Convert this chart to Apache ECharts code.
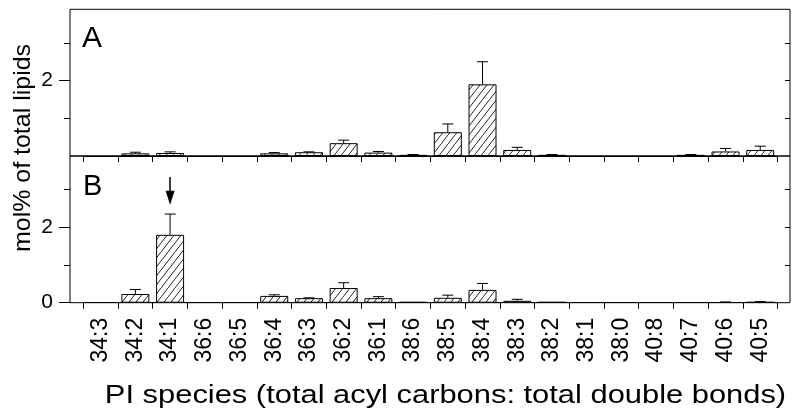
<!DOCTYPE html>
<html><head><meta charset="utf-8">
<script src="https://cdn.jsdelivr.net/npm/echarts@6/dist/echarts.min.js"></script>
<style>html,body{margin:0;padding:0;background:#fff}#c{width:800px;height:419px}</style>
</head><body><div id="c"></div>
<script>
// ---- data ----
const categories = ['34:3','34:2','34:1','36:6','36:5','36:4','36:3','36:2','36:1','38:6','38:5','38:4','38:3','38:2','38:1','38:0','40:8','40:7','40:6','40:5'];
const meanA = [null, 0.07, 0.08, null, null, 0.07, 0.10, 0.34, 0.09, 0.03, 0.63, 1.90, 0.16, 0.03, null, null, null, 0.03, 0.12, 0.16];
const errA  = [0, 0.03, 0.03, 0, 0, 0.02, 0.01, 0.08, 0.03, 0.01, 0.22, 0.60, 0.07, 0.01, 0, 0, 0, 0.01, 0.08, 0.10];
const meanB = [null, 0.23, 1.80, null, null, 0.18, 0.12, 0.39, 0.12, 0.02, 0.13, 0.34, 0.05, 0.02, null, null, null, null, 0.01, 0.02];
const errB  = [0, 0.12, 0.55, 0, 0, 0.03, 0.01, 0.14, 0.04, 0, 0.07, 0.17, 0.04, 0, 0, 0, 0, 0, 0.01, 0.01];
const yMajorA = [2];
const yMajorB = [0, 2];
const yMinor = [1, 3];
const yRight = [1, 2, 3];
const yLabelsA = [2];
const yLabelsB = [0, 2];
const arrowCategory = '34:1';
const arrowFrom = 3.33;
const arrowTo = 2.78;

// ---- layout / style ----
const FONT = "'Liberation Sans', Arial, Helvetica, sans-serif";
const L = 70, R = 790, T = 9.3, MID = 156, BOT = 302.7;
const IL = 83.3, IR = 777.6;
const YMAX = 3.89;

function hatch() {
  const w = 7, h = 9;
  const c = document.createElement('canvas');
  c.width = w; c.height = h;
  const g = c.getContext('2d');
  g.fillStyle = '#fff'; g.fillRect(0, 0, w, h);
  g.strokeStyle = '#222'; g.lineWidth = 1;
  g.beginPath(); g.moveTo(-1, h + h / w); g.lineTo(w + 1, -h / w); g.stroke();
  return c;
}
const pattern = { image: hatch(), repeat: 'repeat' };

const chart = echarts.init(document.getElementById('c'), null, { renderer: 'canvas' });

function frameGrid(top, bottom) {
  return { left: L, top: top, width: R - L, height: bottom - top, show: true,
    borderColor: '#000', borderWidth: 1, backgroundColor: 'transparent', containLabel: false };
}
function dataGrid(top, bottom) {
  return { left: IL, top: top, width: IR - IL, height: bottom - top, containLabel: false };
}

function xAxis(gridIndex, showLabels) {
  return {
    type: 'category', gridIndex: gridIndex, data: categories, boundaryGap: true,
    axisLine: { show: true, lineStyle: { color: '#000', width: 1 } },
    axisTick: { show: true, length: 6, inside: false, lineStyle: { color: '#000', width: 1 } },
    axisLabel: { show: showLabels, rotate: 90, fontSize: 23, margin: 15, color: '#000', fontFamily: FONT },
    splitLine: { show: false }
  };
}
function yAxes(gridIndex, major, labels) {
  const base = { type: 'value', gridIndex: gridIndex, min: 0, max: YMAX, splitLine: { show: false } };
  return [
    Object.assign({}, base, {
      position: 'left', offset: IL - L,
      axisLine: { show: false },
      axisTick: { show: true, length: 11, customValues: major, lineStyle: { color: '#000', width: 1 } },
      axisLabel: { show: true, customValues: labels, fontSize: 21, margin: 17, color: '#000', fontFamily: FONT }
    }),
    Object.assign({}, base, {
      position: 'left', offset: IL - L,
      axisLine: { show: false },
      axisTick: { show: true, length: 6, customValues: yMinor, lineStyle: { color: '#000', width: 1 } },
      axisLabel: { show: false }
    }),
    Object.assign({}, base, {
      position: 'right', offset: R - IR,
      axisLine: { show: false },
      axisTick: { show: true, inside: true, length: 5, customValues: yRight, lineStyle: { color: '#000', width: 1 } },
      axisLabel: { show: false }
    })
  ];
}

function errRender(params, api) {
  const i = api.value(0), v = api.value(1), e = api.value(2);
  if (v == null || isNaN(v) || !e) return;
  const p0 = api.coord([i, v]);
  const p1 = api.coord([i, v + e]);
  const hw = 5.5;
  return { type: 'group', children: [
    { type: 'line', shape: { x1: p0[0], y1: p0[1], x2: p1[0], y2: p1[1] }, style: { stroke: '#000', lineWidth: 1 } },
    { type: 'line', shape: { x1: p1[0] - hw, y1: p1[1], x2: p1[0] + hw, y2: p1[1] }, style: { stroke: '#000', lineWidth: 1 } }
  ]};
}

function barSeries(xi, yi, data, extra) {
  return Object.assign({
    type: 'bar', xAxisIndex: xi, yAxisIndex: yi, data: data, barWidth: 28,
    itemStyle: { color: pattern, borderColor: '#000', borderWidth: 1 },
    silent: true, animation: false
  }, extra || {});
}
function errSeries(xi, yi, mean, err) {
  return {
    type: 'custom', xAxisIndex: xi, yAxisIndex: yi, renderItem: errRender,
    encode: { x: 0, y: 1 },
    data: categories.map((c, i) => [i, mean[i] == null ? NaN : mean[i], err[i]]),
    silent: true, animation: false, z: 5
  };
}

const option = {
  animation: false,
  backgroundColor: '#fff',
  textStyle: { fontFamily: FONT },
  grid: [frameGrid(T, MID), frameGrid(MID, BOT), dataGrid(T, MID), dataGrid(MID, BOT)],
  xAxis: [xAxis(2, false), xAxis(3, true)],
  yAxis: [].concat(yAxes(2, yMajorA, yLabelsA), yAxes(3, yMajorB, yLabelsB)),
  series: [
    barSeries(0, 0, meanA),
    errSeries(0, 0, meanA, errA),
    barSeries(1, 3, meanB, {
      markLine: {
        silent: true, animation: false,
        symbol: ['none', 'triangle'], symbolSize: [9, 14],
        lineStyle: { color: '#000', width: 1.5, type: 'solid' },
        label: { show: false },
        data: [[{ coord: [arrowCategory, arrowFrom] }, { coord: [arrowCategory, arrowTo] }]]
      }
    }),
    errSeries(1, 3, meanB, errB)
  ],
  graphic: [
    { type: 'text', x: 82, y: 39, style: { text: 'A', fontSize: 30, fontFamily: FONT, fill: '#000', align: 'left', verticalAlign: 'middle' } },
    { type: 'text', x: 83, y: 187, style: { text: 'B', fontSize: 29, fontFamily: FONT, fill: '#000', align: 'left', verticalAlign: 'middle' } },
    { type: 'text', x: 23, y: 148, rotation: Math.PI / 2, scaleX: 1.04, style: { text: 'mol% of total lipids', fontSize: 24, fontFamily: FONT, fill: '#000', align: 'center', verticalAlign: 'middle' } },
    { type: 'text', x: 445.5, y: 396, scaleX: 1.165, style: { text: 'PI species (total acyl carbons: total double bonds)', fontSize: 26.5, fontFamily: FONT, fill: '#000', align: 'center', verticalAlign: 'middle' } }
  ]
};
chart.setOption(option);
</script>
</body></html>
